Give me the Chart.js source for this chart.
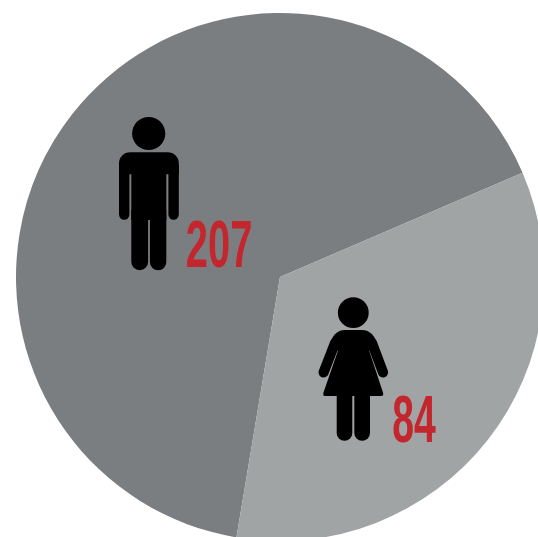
<!DOCTYPE html>
<html>
<head>
<meta charset="utf-8">
<style>
html,body{margin:0;padding:0;background:#fff;overflow:hidden;width:538px;height:537px}
#wrap{position:absolute;left:0;top:0;width:560px;height:554px}
</style>
<script src="https://cdn.jsdelivr.net/npm/chart.js@4"></script>
</head>
<body>
<div id="wrap"><canvas id="c" width="560" height="554"></canvas></div>
<script>
const categories = ['Men', 'Women'];
const counts = [207, 84];
// Slice sizes as drawn in the picture (they differ from the printed counts' ratio)
const sliceShares = [65.9, 34.1];
const sliceColors = ['#7b7e80', '#a1a4a5'];

function rr(ctx, x, y, w, h, r) { ctx.beginPath(); ctx.roundRect(x, y, w, h, r); ctx.fill(); }

function drawMan(ctx) {
  ctx.beginPath(); ctx.arc(148.7, 133.5, 16.6, 0, Math.PI * 2); ctx.fill();
  rr(ctx, 119, 152.3, 59.8, 22, [11, 11, 0, 0]);
  rr(ctx, 119, 165, 10.4, 54.8, [0, 0, 5.2, 5.2]);
  rr(ctx, 168.4, 165, 10.4, 54.8, [0, 0, 5.2, 5.2]);
  ctx.fillRect(131.3, 160, 35, 60);
  rr(ctx, 131.3, 210, 16.8, 60.3, [0, 0, 8.4, 8.4]);
  rr(ctx, 149.9, 210, 16.4, 60.3, [0, 0, 8.2, 8.2]);
}

function drawWoman(ctx) {
  ctx.beginPath(); ctx.arc(353.3, 312.7, 15.4, 0, Math.PI * 2); ctx.fill();
  // shoulders
  ctx.beginPath();
  ctx.moveTo(329, 347);
  ctx.quadraticCurveTo(333, 330, 345, 330);
  ctx.lineTo(362, 330);
  ctx.quadraticCurveTo(374, 330, 378, 347);
  ctx.lineTo(366, 352);
  ctx.lineTo(341, 352);
  ctx.closePath();
  ctx.fill();
  // arms
  ctx.lineCap = 'round';
  ctx.lineWidth = 10.2;
  ctx.strokeStyle = '#000';
  ctx.beginPath(); ctx.moveTo(335, 343); ctx.lineTo(323.6, 372.4); ctx.stroke();
  ctx.beginPath(); ctx.moveTo(372, 343); ctx.lineTo(383, 372.4); ctx.stroke();
  // dress
  ctx.beginPath();
  ctx.moveTo(339.6, 346);
  ctx.lineTo(367.6, 346);
  ctx.lineTo(383, 392.5);
  ctx.quadraticCurveTo(384, 396, 381, 396);
  ctx.lineTo(325, 396);
  ctx.quadraticCurveTo(322.5, 396, 323.5, 392.5);
  ctx.closePath();
  ctx.fill();
  // legs
  rr(ctx, 336.7, 392, 15.6, 48.7, [0, 0, 7.8, 7.8]);
  rr(ctx, 354.3, 392, 15.7, 48.7, [0, 0, 7.8, 7.8]);
}

function fitText(ctx, txt, left, right, baseline, size) {
  ctx.save();
  ctx.font = 'bold ' + size + 'px "Liberation Sans Narrow", "Liberation Sans", sans-serif';
  ctx.textAlign = 'left';
  ctx.textBaseline = 'alphabetic';
  ctx.fillStyle = '#c4262e';
  const m = ctx.measureText(txt);
  const inkL = -m.actualBoundingBoxLeft, inkR = m.actualBoundingBoxRight;
  const sx = (right - left) / (inkR - inkL);
  ctx.translate(left, baseline);
  ctx.scale(sx, 1);
  ctx.fillText(txt, -inkL, 0);
  ctx.restore();
}

const pictograms = {
  id: 'pictograms',
  afterDatasetsDraw(chart) {
    const ctx = chart.ctx;
    ctx.save();
    ctx.fillStyle = '#000';
    drawMan(ctx);
    drawWoman(ctx);
    ctx.restore();
    fitText(ctx, String(counts[0]), 187, 251, 267, 67);
    fitText(ctx, String(counts[1]), 393.5, 436, 441.5, 66);
  }
};

new Chart(document.getElementById('c'), {
  type: 'pie',
  data: {
    labels: categories,
    datasets: [{
      data: sliceShares,
      backgroundColor: sliceColors,
      borderWidth: 0,
      radius: 264,
      rotation: 189.5
    }]
  },
  options: {
    responsive: false,
    animation: false,
    layout: { padding: 0 },
    plugins: { legend: { display: false }, tooltip: { enabled: false } }
  },
  plugins: [pictograms]
});
</script>
</body>
</html>
